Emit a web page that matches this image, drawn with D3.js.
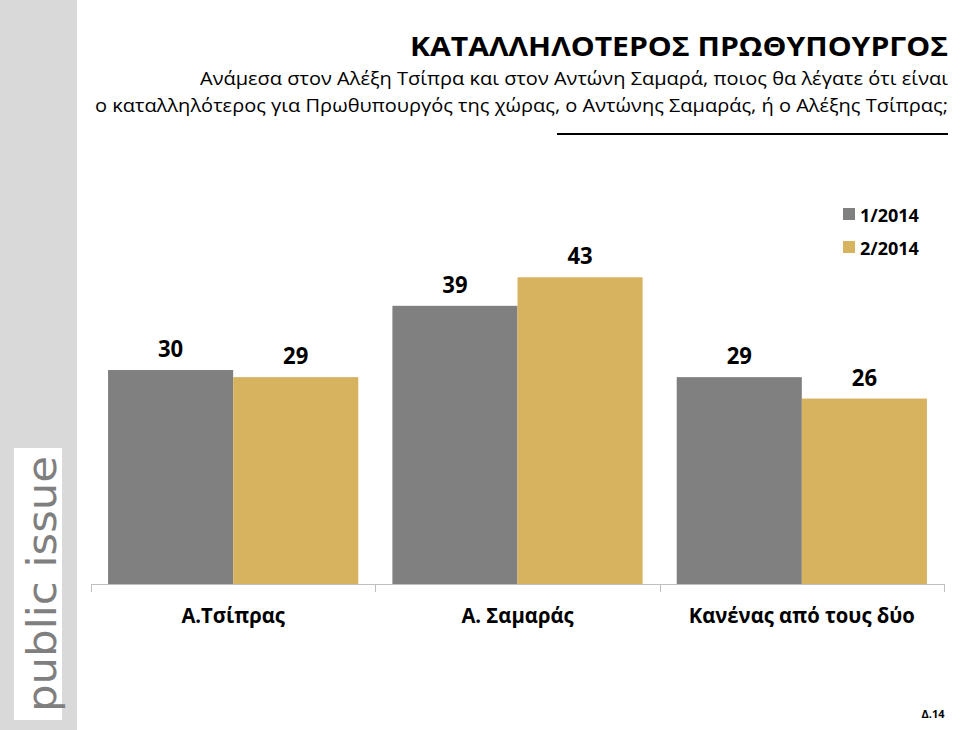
<!DOCTYPE html>
<html><head><meta charset="utf-8">
<script src="https://cdn.jsdelivr.net/npm/d3@7"></script>
<style>
html,body{margin:0;padding:0;background:#fff;}
svg{display:block;}
text{font-family:"Open Sans","Noto Sans",sans-serif;}
</style></head>
<body>
<svg id="chart" width="960" height="730"></svg>
<script>
const categories = ["Α.Τσίπρας", "Α. Σαμαράς", "Κανένας από τους δύο"];
const seriesNames = ["1/2014", "2/2014"];
const jan2014 = [30, 39, 29];
const feb2014 = [29, 43, 26];
const colors = ["#808080", "#d7b35f"];
const titleText = "ΚΑΤΑΛΛΗΛΟΤΕΡΟΣ ΠΡΩΘΥΠΟΥΡΓΟΣ";
const subtitleLines = [
  "Ανάμεσα στον Αλέξη Τσίπρα και στον Αντώνη Σαμαρά, ποιος θα λέγατε ότι είναι",
  "ο καταλληλότερος για Πρωθυπουργός της χώρας, ο Αντώνης Σαμαράς, ή ο Αλέξης Τσίπρας;"
];
const footnote = "Δ.14";
const logoText = "public issue";

const series = [jan2014, feb2014];
const rows = categories.map((c, i) => ({cat: c, vals: series.map((s, j) => ({key: seriesNames[j], v: s[i], j}))}));

const svg = d3.select("#chart");

// condense text horizontally (to mimic a narrower font)
function condense(sel, f) {
  sel.each(function(){
    const w = this.getComputedTextLength();
    d3.select(this).attr("textLength", w*f).attr("lengthAdjust","spacingAndGlyphs");
  });
}

// sidebar
svg.append("rect").attr("x",0).attr("y",0).attr("width",77).attr("height",730).attr("fill","#d9d9d9");
svg.append("rect").attr("x",14).attr("y",448).attr("width",48).attr("height",272).attr("fill","#ffffff");
svg.append("text").attr("transform","translate(56,712) rotate(-90)")
  .attr("fill","#7f7f7f").style("font-family","'DejaVu Sans',sans-serif").style("font-size","40px")
  .attr("textLength",256).attr("lengthAdjust","spacingAndGlyphs").text(logoText);

// title
svg.append("text").attr("x",948).attr("y",56).attr("text-anchor","end")
  .style("font-size","27px").style("font-weight","bold").attr("fill","#000")
  .attr("textLength",538).attr("lengthAdjust","spacingAndGlyphs").text(titleText);
const subLens = [748, 853];
subtitleLines.forEach((t,i)=>{
  svg.append("text").attr("x",948).attr("y",85+i*27).attr("text-anchor","end")
    .style("font-size","18px").attr("fill","#000")
    .attr("textLength",subLens[i]).attr("lengthAdjust","spacingAndGlyphs").text(t);
});
svg.append("line").attr("x1",557).attr("x2",948).attr("y1",134).attr("y2",134)
  .attr("stroke","#000").attr("stroke-width",2);

// scales
const baseY = 584;
const x0 = d3.scaleBand().domain(categories).range([91,944]).paddingInner(0.12).paddingOuter(0.06);
const x1 = d3.scaleBand().domain(seriesNames).range([0, x0.bandwidth()]);
const y = d3.scaleLinear().domain([0,50]).range([baseY, baseY - 50*7.133]);

const g = svg.append("g");
const groups = g.selectAll("g.cat").data(rows).join("g").attr("class","cat")
  .attr("transform", d => `translate(${x0(d.cat)},0)`);
groups.selectAll("rect").data(d => d.vals).join("rect")
  .attr("x", d => x1(d.key)).attr("width", x1.bandwidth())
  .attr("y", d => y(d.v)).attr("height", d => y(0) - y(d.v))
  .attr("fill", d => colors[d.j]);
groups.selectAll("text.val").data(d => d.vals).join("text").attr("class","val")
  .attr("x", d => x1(d.key) + x1.bandwidth()/2).attr("y", d => y(d.v) - 13)
  .attr("text-anchor","middle").style("font-size","24px").style("font-weight","bold")
  .attr("fill","#000").text(d => d.v)
  .call(condense, 0.92);

// axis
const tickPos = d3.range(categories.length+1).map(i => 91 + i*((944-91)/categories.length));
svg.append("line").attr("x1",91).attr("x2",944).attr("y1",baseY+0.5).attr("y2",baseY+0.5)
  .attr("stroke","#bfbfbf").attr("stroke-width",1);
svg.selectAll("line.tick").data(tickPos).join("line").attr("class","tick")
  .attr("x1",d=>Math.round(d)+0.5).attr("x2",d=>Math.round(d)+0.5).attr("y1",baseY).attr("y2",baseY+8)
  .attr("stroke","#bfbfbf");
svg.selectAll("text.cat").data(categories).join("text").attr("class","cat")
  .attr("x", d => x0(d) + x0.bandwidth()/2).attr("y", 623)
  .attr("text-anchor","middle").style("font-size","22px").style("font-weight","bold")
  .attr("fill","#000").text(d => d)
  .call(condense, 0.92);

// legend
const leg = svg.append("g");
seriesNames.forEach((s,i)=>{
  leg.append("rect").attr("x",843).attr("y",208+i*33).attr("width",12).attr("height",12).attr("fill",colors[i]);
  leg.append("text").attr("x",860).attr("y",222+i*33).style("font-size","18px").style("font-weight","bold")
    .attr("fill","#000").text(s);
});

svg.append("text").attr("x",933).attr("y",718).attr("text-anchor","middle")
  .style("font-size","11px").style("font-weight","bold").attr("fill","#000").text(footnote);
</script>
</body></html>
